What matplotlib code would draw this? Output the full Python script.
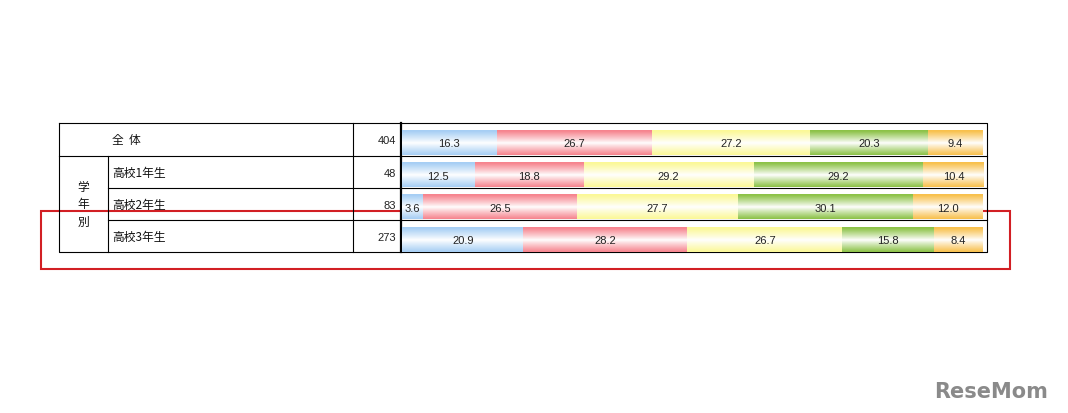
import matplotlib
matplotlib.use("Agg")
import matplotlib.pyplot as plt
import numpy as np
from matplotlib.colors import LinearSegmentedColormap
from matplotlib.patches import Rectangle

plt.rcParams["font.family"] = ["Noto Sans CJK JP", "DejaVu Sans"]

# data
row_labels = ["全  体", "高校1年生", "高校2年生", "高校3年生"]
group_label = "学\n年\n別"
counts = [404, 48, 83, 273]
blue = [16.3, 12.5, 3.6, 20.9]
red = [26.7, 18.8, 26.5, 28.2]
yellow = [27.2, 29.2, 27.7, 26.7]
green = [20.3, 29.2, 30.1, 15.8]
orange = [9.4, 10.4, 12.0, 8.4]
series = [blue, red, yellow, green, orange]
colors = ["#a6cef4", "#f6848e", "#fbf897", "#8cc247", "#f8c04c"]

W, H = 1068, 414
fig = plt.figure(figsize=(W / 100, H / 100), dpi=100)
fig.patch.set_facecolor("white")

# overlay axes in pixel coords for the table frame
tab = fig.add_axes([0, 0, 1, 1])
tab.set_xlim(0, W)
tab.set_ylim(H, 0)
tab.axis("off")

x0, x_grp, x_lab, x_n, x1 = 59, 108, 353, 401, 987
row_y = [124, 157, 189, 221, 253]

# bar axes: 0-100% between x_n and ~983
bx0, bx1 = 402, 983
ax = fig.add_axes([bx0 / W, 1 - row_y[-1] / H, (bx1 - bx0) / W, (row_y[-1] - row_y[0]) / H])
ax.set_xlim(0, 100)
ax.set_ylim(4, 0)
ax.axis("off")
ax.patch.set_alpha(0)

ypos = np.arange(len(counts)) + 0.6
grad = np.clip(np.abs(np.linspace(-1.15, 1.0, 64)), 0, 1) ** 0.9
grad = grad.reshape(-1, 1)

left = np.zeros(len(counts))
for vals, col in zip(series, colors):
    vals = np.array(vals)
    bars = ax.barh(ypos, vals, left=left, height=0.78, color="none", linewidth=0)
    cmap = LinearSegmentedColormap.from_list("g", ["white", col])
    for b, v, l in zip(bars, vals, left):
        x, y = b.get_x(), b.get_y()
        w, h = b.get_width(), b.get_height()
        im = ax.imshow(grad, cmap=cmap, vmin=0, vmax=1, aspect="auto",
                       extent=(x, x + w, y + h, y), interpolation="bilinear", zorder=1)
        im.set_clip_path(b)
        ax.text(l + v / 2, y + h / 2 + 0.03, f"{v:.1f}", ha="center", va="center",
                fontsize=8, color="#222222", family="Liberation Sans", zorder=3)
    left = left + vals
ax.set_xlim(0, 100)
ax.set_ylim(4, 0)

# table lines
lw = 0.8
tab.plot([x0, x1, x1, x0, x0], [row_y[0], row_y[0], row_y[-1], row_y[-1], row_y[0]], color="black", lw=lw)
for y in row_y[1:-1]:
    tab.plot([x_grp if y != row_y[1] else x0, x1], [y, y], color="black", lw=lw)
tab.plot([x_grp, x_grp], [row_y[1], row_y[-1]], color="black", lw=lw)
tab.plot([x_lab, x_lab], [row_y[0], row_y[-1]], color="black", lw=lw)
tab.plot([x_n, x_n], [row_y[0], row_y[-1]], color="black", lw=1.6)

for i, (lab, n) in enumerate(zip(row_labels, counts)):
    yc = (row_y[i] + row_y[i + 1]) / 2
    tab.text(112, yc, lab, ha="left", va="center", fontsize=8.5, color="#111111")
    tab.text(396, yc + 1, str(n), ha="right", va="center", fontsize=8,
             family="Liberation Sans", color="#222222")
tab.text(83, 205, group_label, ha="center", va="center", fontsize=8.5,
         linespacing=1.45, color="#111111")

# red highlight box
tab.add_patch(Rectangle((41, 212), 969, 58, fill=False, edgecolor="#d21f24", lw=1.5))

# watermark
tab.text(1048, 392, "ReseMom", ha="right", va="center", fontsize=15,
         fontweight="bold", color="#8a8a8a", family="DejaVu Sans")

fig.savefig("out.png", dpi=100, facecolor="white")
